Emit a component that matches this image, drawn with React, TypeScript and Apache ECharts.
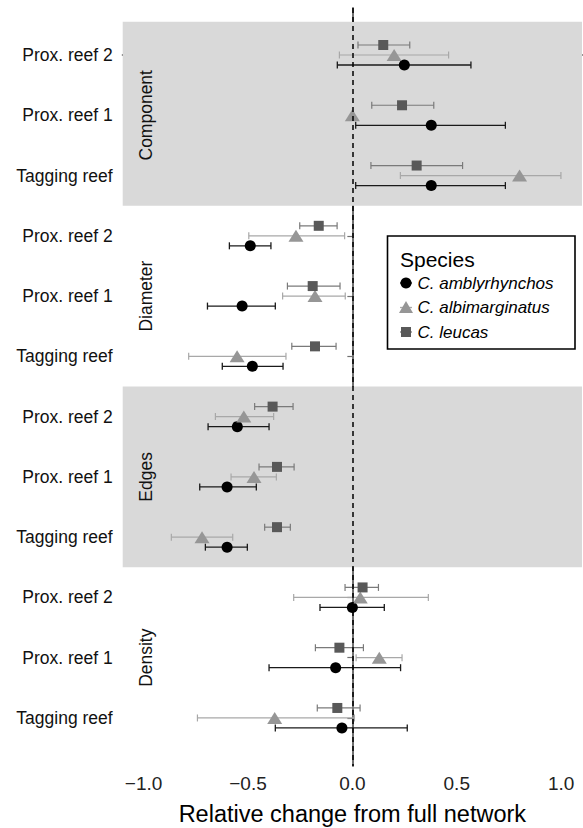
import React, { useEffect, useRef } from "react";
import * as echarts from "echarts";

const rowLabels = [
  "Prox. reef 2", "Prox. reef 1", "Tagging reef",
  "Prox. reef 2", "Prox. reef 1", "Tagging reef",
  "Prox. reef 2", "Prox. reef 1", "Tagging reef",
  "Prox. reef 2", "Prox. reef 1", "Tagging reef",
];
const metrics = ["Component", "Diameter", "Edges", "Density"];
const xTicks = [-1, -0.5, 0, 0.5, 1];
const speciesNames = ["C. amblyrhynchos", "C. albimarginatus", "C. leucas"];

const amblyMean = [0.249, 0.378, 0.378, -0.489, -0.528, -0.479, -0.551, -0.6, -0.6, 0.0, -0.08, -0.05];
const amblyLo = [-0.072, 0.016, 0.016, -0.589, -0.694, -0.623, -0.691, -0.731, -0.704, -0.155, -0.399, -0.369];
const amblyHi = [0.568, 0.733, 0.733, -0.39, -0.369, -0.332, -0.399, -0.46, -0.503, 0.153, 0.231, 0.263];

const albiMean = [0.2, 0.0, 0.801, -0.27, -0.179, -0.552, -0.52, -0.471, -0.72, 0.038, 0.129, -0.372];
const albiLo = [-0.062, 0.0, 0.23, -0.496, -0.334, -0.784, -0.656, -0.581, -0.867, -0.281, 0.018, -0.742];
const albiHi = [0.461, 0.0, 0.999, -0.037, -0.034, -0.318, -0.377, -0.364, -0.573, 0.364, 0.238, 0.01];

const leucasMean = [0.148, 0.238, 0.308, -0.161, -0.19, -0.179, -0.382, -0.361, -0.361, 0.049, -0.062, -0.072];
const leucasLo = [0.027, 0.093, 0.089, -0.252, -0.311, -0.29, -0.468, -0.447, -0.42, -0.035, -0.177, -0.168];
const leucasHi = [0.275, 0.39, 0.528, -0.073, -0.059, -0.078, -0.284, -0.279, -0.297, 0.125, 0.053, 0.037];

const FONT = "Liberation Sans, Arial, Helvetica, sans-serif";

export default function App() {
  const ref = useRef<HTMLDivElement>(null);
  useEffect(() => {
    if (!ref.current) return;
    const chart = echarts.init(ref.current, undefined, { renderer: "svg" });

    const species = [
      { name: speciesNames[0], mean: amblyMean, lo: amblyLo, hi: amblyHi, off: 0.166, symbol: "circle", size: 11, color: "#000000", bar: "#1a1a1a", barW: 1.3 },
      { name: speciesNames[1], mean: albiMean, lo: albiLo, hi: albiHi, off: 0, symbol: "triangle", size: [15, 12], color: "#969696", bar: "#a8a8a8", barW: 1.2 },
      { name: speciesNames[2], mean: leucasMean, lo: leucasLo, hi: leucasHi, off: -0.166, symbol: "rect", size: 10, color: "#595959", bar: "#7a7a7a", barW: 1.2 },
    ];

    const series: any[] = [
      {
        type: "scatter",
        data: [],
        z: 1,
        silent: true,
        markArea: {
          silent: true,
          itemStyle: { color: "#d9d9d9" },
          data: [
            [{ yAxis: -0.55 }, { yAxis: 2.5 }],
            [{ yAxis: 5.5 }, { yAxis: 8.5 }],
          ],
        },
      },
      {
        type: "scatter",
        data: [],
        z: 2,
        silent: true,
        markLine: {
          silent: true,
          symbol: "none",
          label: { show: false },
          lineStyle: { color: "#000", type: [5, 4], width: 1.5 },
          data: [{ xAxis: 0 }],
        },
      },
    ];

    species.forEach((s) => {
      const color = s.bar;
      const lw = s.barW;
      series.push({
        type: "custom",
        z: 3,
        silent: true,
        data: s.mean.map((_, i) => [s.lo[i], s.hi[i], i + s.off]),
        encode: { x: [0, 1], y: 2 },
        renderItem: (params: any, api: any) => {
          const a = api.coord([api.value(0), api.value(2)]);
          const b = api.coord([api.value(1), api.value(2)]);
          const h = 3.5;
          const style = { stroke: color, lineWidth: lw };
          return {
            type: "group",
            children: [
              { type: "line", shape: { x1: a[0], y1: a[1], x2: b[0], y2: b[1] }, style },
              { type: "line", shape: { x1: a[0], y1: a[1] - h, x2: a[0], y2: a[1] + h }, style },
              { type: "line", shape: { x1: b[0], y1: b[1] - h, x2: b[0], y2: b[1] + h }, style },
            ],
          };
        },
      });
    });

    species.forEach((s) => {
      series.push({
        type: "scatter",
        name: s.name,
        z: 4,
        symbol: s.symbol,
        symbolSize: s.size,
        itemStyle: { color: s.color, opacity: 1 },
        data: s.mean.map((v, i) => [v, i + s.off]),
      });
    });

    const rowIdx = rowLabels.map((_, i) => i);

    chart.setOption({
      animation: false,
      backgroundColor: "#ffffff",
      grid: { left: 122.7, right: 1, top: 8, bottom: 62, containLabel: false, outerBoundsMode: "none" },
      xAxis: {
        type: "value",
        min: -1.1,
        max: 1.1,
        name: "Relative change from full network",
        nameLocation: "middle",
        nameGap: 36,
        nameTextStyle: { fontFamily: FONT, fontSize: 23.5, color: "#000" },
        axisLine: { show: true, lineStyle: { color: "#707070", width: 2 } },
        axisTick: { show: true, length: 5, customValues: xTicks, lineStyle: { color: "#707070", width: 1.2 } },
        axisLabel: {
          customValues: xTicks,
          formatter: (v: number) => (v < 0 ? "\u2212" : "") + Math.abs(v).toFixed(1),
          fontFamily: FONT,
          fontSize: 19,
          color: "#222",
          margin: 8,
        },
        splitLine: { show: false },
      },
      yAxis: {
        type: "value",
        inverse: true,
        min: -0.78,
        max: 11.797,
        axisLine: { show: true, lineStyle: { color: "#707070", width: 2 } },
        axisTick: { show: true, length: 5, customValues: rowIdx, lineStyle: { color: "#707070", width: 1.2 } },
        axisLabel: {
          customValues: rowIdx,
          formatter: (v: number) => rowLabels[Math.round(v)] ?? "",
          fontFamily: FONT,
          fontSize: 17.5,
          color: "#111",
          margin: 10,
        },
        splitLine: { show: false },
      },
      series,
    });

    const graphics: any[] = [];
    metrics.forEach((m, gi) => {
      const p = chart.convertToPixel({ yAxisIndex: 0 }, gi * 3 + 1) as number;
      graphics.push({
        type: "text",
        x: 146,
        y: p,
        rotation: Math.PI / 2,
        z: 10,
        style: {
          text: m,
          fontFamily: FONT,
          fontSize: 17.5,
          fill: "#111",
          align: "center",
          verticalAlign: "middle",
        },
      });
    });

    const lx = 387.5;
    const ly = 236;
    graphics.push({
      type: "rect",
      shape: { x: lx, y: ly, width: 187.5, height: 113 },
      style: { fill: "#ffffff", stroke: "#000", lineWidth: 1.6 },
      z: 10,
    });
    graphics.push({
      type: "text",
      x: lx + 12.5,
      y: ly + 23,
      z: 11,
      style: { text: "Species", fontFamily: FONT, fontSize: 21, fill: "#000", verticalAlign: "middle" },
    });
    species.forEach((s, i) => {
      const cy = ly + 47 + i * 24.5;
      const cx = lx + 18.5;
      graphics.push({
        type: "line",
        z: 11,
        shape: { x1: cx - 6, y1: cy, x2: cx + 6, y2: cy },
        style: { stroke: s.bar, lineWidth: 1.3 },
      });
      let marker: any;
      if (s.symbol === "circle") {
        marker = { type: "circle", shape: { cx, cy, r: 5.5 }, style: { fill: s.color } };
      } else if (s.symbol === "triangle") {
        marker = { type: "polygon", shape: { points: [[cx, cy - 6.5], [cx + 7, cy + 5.5], [cx - 7, cy + 5.5]] }, style: { fill: s.color } };
      } else {
        marker = { type: "rect", shape: { x: cx - 5, y: cy - 5, width: 10, height: 10 }, style: { fill: s.color } };
      }
      marker.z = 12;
      graphics.push(marker);
      graphics.push({
        type: "text",
        x: lx + 30,
        y: cy,
        z: 11,
        style: {
          text: s.name,
          fontFamily: FONT,
          fontSize: 17,
          fontStyle: "italic",
          fill: "#000",
          verticalAlign: "middle",
        },
      });
    });

    chart.setOption({ graphic: graphics });

    return () => chart.dispose();
  }, []);

  return (
    <div
      ref={ref}
      style={{ position: "fixed", left: 0, top: 0, width: 583, height: 828, background: "#fff" }}
    />
  );
}
